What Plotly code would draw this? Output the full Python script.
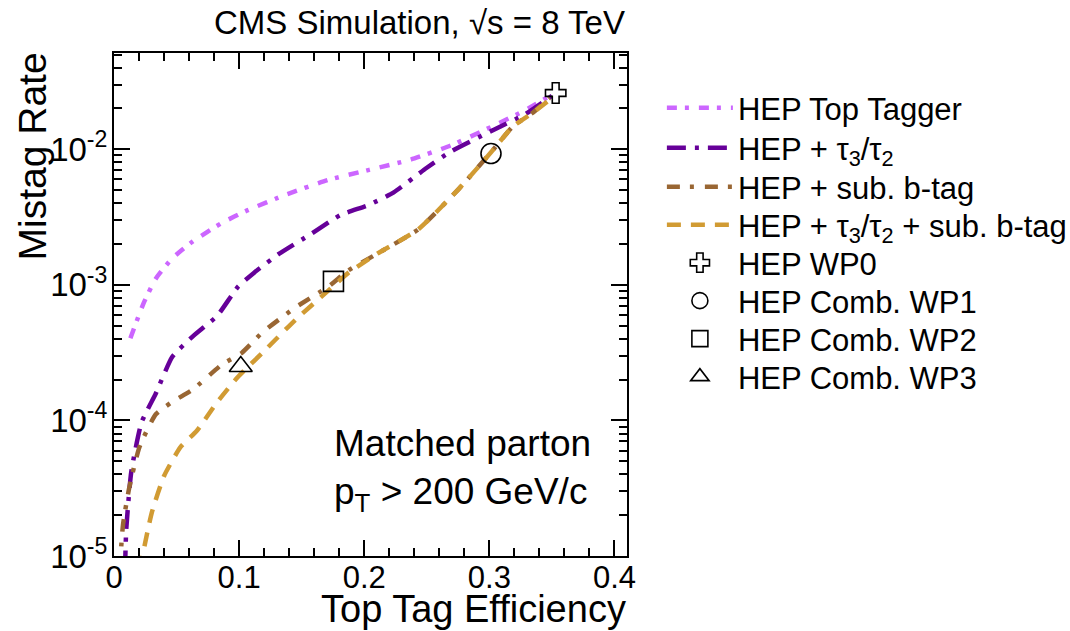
import plotly.graph_objects as go

# ---------------- data ----------------
eff_hep = [0.0131, 0.0236, 0.0334, 0.0466, 0.063, 0.0859, 0.1056, 0.138, 0.171,
           0.204, 0.237, 0.2695, 0.302, 0.3285, 0.35]
mis_hep = [4.04e-4, 7.31e-4, 1.11e-3, 1.57e-3, 2.09e-3, 2.85e-3, 3.51e-3, 4.65e-3,
           5.93e-3, 7.05e-3, 8.39e-3, 1.07e-2, 1.47e-2, 1.94e-2, 2.53e-2]

eff_tau = [0.0088, 0.0098, 0.0138, 0.022, 0.0334, 0.0466, 0.063, 0.0826, 0.099, 0.112,
           0.1318, 0.158, 0.181, 0.204, 0.2236, 0.25, 0.2695, 0.302, 0.3285, 0.35]
mis_tau = [7.9e-6, 1.58e-5, 4.17e-5, 9.66e-5, 1.58e-4, 2.95e-4, 4.17e-4, 5.93e-4,
           9.66e-4, 1.23e-3, 1.69e-3, 2.39e-3, 3.27e-3, 3.90e-3, 4.81e-3, 7.31e-3,
           9.66e-3, 1.37e-2, 1.81e-2, 2.48e-2]

eff_btag = [0.0045, 0.0072, 0.0121, 0.0203, 0.0334, 0.0466, 0.063, 0.0859, 0.1023, 0.1187,
            0.145, 0.171, 0.1875, 0.21, 0.243, 0.276, 0.302, 0.3187, 0.335, 0.348]
mis_btag = [7.9e-6, 1.70e-5, 3.16e-5, 6.35e-5, 1.11e-4, 1.37e-4, 1.69e-4, 2.57e-4,
            3.16e-4, 4.47e-4, 6.81e-4, 9.66e-4, 1.28e-3, 1.69e-3, 2.56e-3, 5.15e-3,
            9.66e-3, 1.47e-2, 1.87e-2, 2.39e-2]

eff_comb = [0.0205, 0.0302, 0.04, 0.0531, 0.0662, 0.0826, 0.099, 0.1187, 0.145, 0.171,
            0.1875, 0.21, 0.243, 0.276, 0.302, 0.3187, 0.335, 0.348]
mis_comb = [7.9e-6, 2.09e-5, 3.89e-5, 6.35e-5, 8.39e-5, 1.37e-4, 2.09e-4, 3.16e-4,
            5.52e-4, 9.02e-4, 1.23e-3, 1.69e-3, 2.56e-3, 5.15e-3, 9.66e-3, 1.47e-2,
            1.87e-2, 2.31e-2]

wp_names = ["HEP WP0", "HEP Comb. WP1", "HEP Comb. WP2", "HEP Comb. WP3"]
wp_eff = [0.353, 0.3013, 0.1754, 0.1013]
wp_mis = [0.026, 0.0093, 1.06e-3, 2.5e-4]
wp_symbols = ["cross-open", "circle-open", "square-open", "triangle-up-open"]
wp_sizes = [17, 20, 20, 20]

y_tickvals = [1e-5, 1e-4, 1e-3, 1e-2]
y_ticktext = ["10<sup>-5</sup>", "10<sup>-4</sup>", "10<sup>-3</sup>", "10<sup>-2</sup>"]

FONT = "Liberation Sans, Arial, sans-serif"

# layout helpers (pixel geometry of the figure)
W, H = 1070, 631
ML, MR, MT, MB = 114, 443, 53, 75
PH = H - MT - MB
LEGEND_ROWS_PX = [108, 148, 187, 225, 263, 301, 339, 377]   # row centres (px from top)

fig = go.Figure()

curves = [
    ("HEP Top Tagger", eff_hep, mis_hep, "#cc66ff", "10px,8px,4px,10px"),
    ("HEP + τ<sub>3</sub>/τ<sub>2</sub>", eff_tau, mis_tau, "#660099", "19px,9px,4px,9px"),
    ("HEP + sub. b-tag", eff_btag, mis_btag, "#996633", "13px,10px,4px,11px"),
    ("HEP + τ<sub>3</sub>/τ<sub>2</sub> + sub. b-tag", eff_comb, mis_comb, "#d19b33", "14px,10px"),
]
legend_ids = ["legend"] + ["legend%d" % i for i in range(2, 9)]

k = 0
for name, x, y, col, dash in curves:
    fig.add_trace(go.Scatter(x=x, y=y, mode="lines", name=name, legend=legend_ids[k],
                             line=dict(color=col, width=4.5, dash=dash,
                                       shape="spline", smoothing=0.5)))
    k += 1

for n, x, y, s, sz in zip(wp_names, wp_eff, wp_mis, wp_symbols, wp_sizes):
    fig.add_trace(go.Scatter(x=[x], y=[y], mode="markers", name=n, legend=legend_ids[k],
                             marker=dict(symbol=s, size=sz, color="black",
                                         line=dict(color="black", width=1.6))))
    k += 1

minor_y = [m * 10 ** e for e in range(-5, -1) for m in range(2, 10)]

legend_layout = {}
for lid, yc in zip(legend_ids, LEGEND_ROWS_PX):
    legend_layout[lid] = dict(x=1.068, y=(H - MB - yc) / PH, xanchor="left",
                              yanchor="middle", font=dict(size=31, family=FONT),
                              itemwidth=66, bgcolor="rgba(0,0,0,0)", tracegroupgap=0)

fig.update_layout(
    width=W, height=H,
    margin=dict(l=ML, r=MR, t=MT, b=MB, autoexpand=False),
    paper_bgcolor="white", plot_bgcolor="white",
    font=dict(family=FONT, color="black", size=29),
    showlegend=True,
    xaxis=dict(range=[0, 0.41], tick0=0, dtick=0.1, ticks="inside", ticklen=16,
               tickwidth=1.5, tickcolor="black", showline=True, linecolor="black",
               linewidth=2, mirror="allticks", showgrid=False, zeroline=False,
               tickfont=dict(size=31), ticklabelstandoff=-7,
               minor=dict(ticks="inside", ticklen=8, tickwidth=1.5, tickcolor="black",
                          dtick=0.02, tick0=0, showgrid=False)),
    yaxis=dict(type="log", range=[-5, -1.29], tickmode="array", tickvals=y_tickvals,
               ticktext=y_ticktext, ticks="inside", ticklen=16, tickwidth=1.5,
               tickcolor="black", showline=True, linecolor="black", linewidth=2,
               mirror="allticks", showgrid=False, zeroline=False,
               tickfont=dict(size=33), ticklabelstandoff=-2,
               minor=dict(ticks="inside", ticklen=8, tickwidth=1.5, tickcolor="black",
                          tickmode="array", tickvals=minor_y, showgrid=False)),
    annotations=[
        dict(text="CMS Simulation, √s = 8 TeV", xref="paper", yref="paper",
             x=1, y=1.0616, xanchor="right", yanchor="middle", showarrow=False,
             font=dict(size=33)),
        dict(text="Mistag Rate", xref="paper", yref="paper", x=-0.157, y=1.006,
             xanchor="center", yanchor="top", textangle=-90, showarrow=False,
             font=dict(size=39)),
        dict(text="Top Tag Efficiency", xref="paper", yref="paper", x=1.002, y=-0.106,
             xanchor="right", yanchor="middle", showarrow=False, font=dict(size=38)),
        dict(text="Matched parton<br>p<sub>T</sub> > 200 GeV/c", xref="paper",
             yref="paper", x=0.425, y=0.268, xanchor="left", yanchor="top",
             align="left", showarrow=False, font=dict(size=37)),
    ],
    **legend_layout,
)

fig.write_html("out.html")
